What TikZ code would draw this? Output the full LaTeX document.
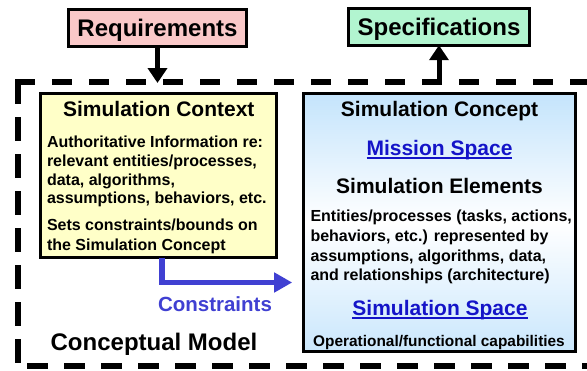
\documentclass[tikz,border=0pt]{standalone}
\usepackage{fontspec}
\setmainfont{Liberation Sans}
\usetikzlibrary{arrows.meta}
\definecolor{reqpink}{RGB}{250,200,200}
\definecolor{specgreen}{RGB}{178,245,208}
\definecolor{ctxyellow}{RGB}{255,255,200}
\definecolor{cptblue}{RGB}{196,228,252}
\definecolor{linkblue}{RGB}{20,20,200}
\definecolor{conblue}{RGB}{64,64,210}
\newcommand\myfs[1]{\fontsize{#1}{#1}\selectfont}
\begin{document}
\begin{tikzpicture}[x=1pt,y=-1pt,
  every node/.style={inner sep=0pt, outer sep=0pt, font=\bfseries},
  topbox/.style={draw=black, line width=3pt, font=\bfseries\myfs{24}, text height=17pt, text depth=0pt},
  bigbox/.style={draw=black, line width=3pt},
  frame/.style={line width=6pt, black},
  head/.style={anchor=base, font=\bfseries\myfs{21}},
  body/.style={anchor=base west, font=\bfseries\myfs{16}},
  link/.style={anchor=base, font=\bfseries\myfs{21}, text=linkblue},
  ulin/.style={linkblue, line width=2pt},
  blkarrow/.style={line width=5pt, -{Triangle[length=15pt,width=19pt]}},
  conarrow/.style={line width=5.5pt, conblue, -{Triangle[length=18pt,width=19pt]}},
]
\useasboundingbox[fill=white] (0,0) rectangle (587,370);

% dashed frame of the conceptual model
\draw[frame, dash pattern=on 20pt off 17pt] (15,81.5) -- (592,81.5);
\draw[frame, dash pattern=on 24pt off 13pt] (17.5,80) -- (17.5,365);
\draw[frame, dash pattern=on 21pt off 16pt] (27,365.5) -- (592,365.5);
\coordinate (ftop) at (0,83);
\coordinate (fline) at (0,84);

% top boxes
\node[topbox, fill=reqpink, minimum width=178.6pt, minimum height=37pt] (req) at (157.5,28.3) {Requirements};
\node[topbox, fill=specgreen, minimum width=180.4pt, minimum height=36.4pt] (spec) at (439,27) {Specifications};

% main boxes
\node[bigbox, fill=ctxyellow, minimum width=236pt, minimum height=164.3pt] (ctx) at (158.8,175.35) {};
\node[bigbox, top color=cptblue, bottom color=cptblue!90, middle color=white, minimum width=272.3pt, minimum height=258.6pt] (cpt) at (439.35,222.5) {};

% connectors
\draw[blkarrow] (req.south) -- (req.south |- ftop);
\draw[blkarrow] (spec.south |- fline) -- (spec.south);
\coordinate (cy) at (0,282.5);
\draw[conarrow] ([xshift=3pt]ctx.south) |- ([xshift=-11pt]cpt.west |- cy);

% simulation context texts
\node[head] (ctxh) at (158.8,116.5) {Simulation Context};
\node[body] (c1) at (47,147.5) {Authoritative Information re:};
\node[body] (c2) at (47,166.5) {relevant entities/processes,};
\node[body] (c3) at (47,185) {data, algorithms,};
\node[body] (c4) at (47,203.5) {assumptions, behaviors, etc.};
\node[body] (c5) at (47,230) {Sets constraints/bounds on};
\node[body] (c6) at (47,250) {the Simulation Concept};

% simulation concept texts
\node[head] (cpth) at (439.5,116.5) {Simulation Concept};
\node[link] (ms) at (439.5,155) {Mission Space};
\draw[ulin] ([yshift=-2.5pt]ms.base west) -- ([yshift=-2.5pt]ms.base east);
\node[head] (seh) at (439.5,193) {Simulation Elements};
\node[body] (e1) at (310.5,221.5) {Entities/processes (tasks, actions,};
\node[body] (e2) at (310.5,241) {behaviors, etc.) represented by};
\node[body] (e3) at (310.5,261) {assumptions, algorithms, data,};
\node[body] (e4) at (310.5,280) {and relationships (architecture)};
\node[link] (ss) at (440,315) {Simulation Space};
\draw[ulin] ([yshift=-2.5pt]ss.base west) -- ([yshift=-2.5pt]ss.base east);
\node[anchor=base, font=\bfseries\myfs{15.4}] (ops) at (439,346) {Operational/functional capabilities};

% free labels
\node[anchor=base, font=\bfseries\myfs{20.5}, text=conblue] (conl) at (215,311) {Constraints};
\node[anchor=base, font=\bfseries\myfs{24}] (cml) at (154,350.5) {Conceptual Model};
\end{tikzpicture}
\end{document}
